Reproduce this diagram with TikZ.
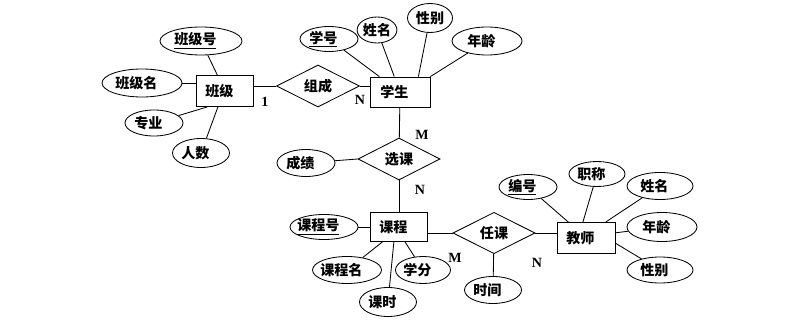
\documentclass[tikz,border=0pt]{standalone}
\usepackage{fontspec}
\setmainfont{Liberation Serif}
\newfontfamily\cjk{Noto Sans CJK SC}
\usetikzlibrary{shapes.geometric}
\begin{document}
\begin{tikzpicture}[x=0.025cm,y=-0.025cm,line width=0.6pt,
  cn/.style={font=\cjk\bfseries\fontsize{10}{12}\selectfont},
  lsh/.style={execute at begin node={\hspace*{-4pt}},execute at end node={\hspace*{4pt}}},
  E0/.style 2 args={cn,ellipse,draw,inner sep=0pt,minimum width=#1*0.025cm,minimum height=#2*0.025cm},
  E/.style 2 args={E0={#1}{#2},lsh},
  R/.style 2 args={cn,lsh,rectangle,draw,inner sep=0pt,minimum width=#1*0.025cm,minimum height=#2*0.025cm},
  D/.style 2 args={cn,diamond,draw,inner sep=0pt,minimum width=#1*0.025cm,minimum height=#2*0.025cm},
  card/.style={font=\bfseries\fontsize{10}{12}\selectfont,inner sep=0pt}]
\useasboundingbox (0,0) rectangle (800,320);
% entities
\node[R={57}{31}] (bj) at (225,91) {班级};
\node[R={60}{30}] (xs) at (400,92) {学生};
\node[R={57}{29}] (kc) at (399,227) {课程};
\node[R={58}{31}] (js) at (586,238) {教师};
% relationships
\node[D={83}{42}] (zc) at (318,86) {组成};
\node[D={82}{42}] (xk) at (399,159) {选课};
\node[D={82}{40}] (rk) at (494,233) {任课};
% attributes of 班级
\node[E={82}{28}] (bjh) at (201,41) {\underline{班级号}};
\node[E={80}{28}] (bjm) at (142,83) {班级名};
\node[E={58}{26}] (zy) at (154,123) {专业};
\node[E={57}{29}] (rs) at (201,153) {人数};
% attributes of 学生
\node[E={58}{25}] (xh) at (329,39) {\underline{学号}};
\node[E0={37}{26}] (xm) at (377,30) {姓名};
\node[E0={45}{29}] (xb) at (430,18) {性别};
\node[E={70}{28}] (nl) at (487,41) {年龄};
% 选课
\node[E={58}{27}] (cj) at (306,163) {成绩};
% attributes of 课程
\node[E={68}{25}] (kch) at (324,227) {\underline{课程号}};
\node[E={69}{27}] (kcm) at (347,270) {课程名};
\node[E={55}{27}] (xf) at (423,270) {学分};
\node[E={57}{29}] (ks) at (388,302) {课时};
% 任课
\node[E={57}{27}] (sj) at (493,290) {时间};
% attributes of 教师
\node[E={58}{25}] (bh) at (528,187) {\underline{编号}};
\node[E={56}{25}] (zch) at (597,174) {职称};
\node[E={66}{27}] (jxm) at (660,186) {姓名};
\node[E={70}{29}] (jnl) at (662,227) {年龄};
\node[E={66}{26}] (jxb) at (660,270) {性别};
% cardinalities
\node[card] (c1) at (265,102) {1};
\node[card] (c2) at (360,100) {N};
\node[card] (c3) at (422,135) {M};
\node[card] (c4) at (420,190) {N};
\node[card] (c5) at (455,258) {M};
\node[card] (c6) at (537,263) {N};
% connectors
\draw (bjh) -- (bj);
\draw (bjm) -- (bjm -| bj.west);
\draw (zy) -- (bj.222);
\draw (rs) -- (bj.246);
\draw (zc.west -| bj.east) -- (zc.west);
\draw (zc.east) -- (zc.east -| xs.west);
\draw (xh) -- (xs);
\draw (xm) -- (xs);
\draw (xb) -- (xs.40);
\draw (nl) -- (xs.north east);
\draw (xs) -- (xk);
\draw (cj) -- (xk.west);
\draw (xk) -- (kc);
\draw (kch) -- (kc);
\draw (kcm) -- (kc.222);
\draw (ks) -- (kc.251);
\draw (xf) -- (kc.292);
\draw (rk.west -| kc.east) -- (rk.west);
\draw (rk) -- (sj);
\draw (rk.east) -- (rk.east -| js.west);
\draw (bh) -- (js.138);
\draw (zch) -- (js.101);
\draw (jxm) -- (js.39);
\draw (jnl) -- (js.10);
\draw (jxb) -- (js.350);
\end{tikzpicture}
\end{document}
